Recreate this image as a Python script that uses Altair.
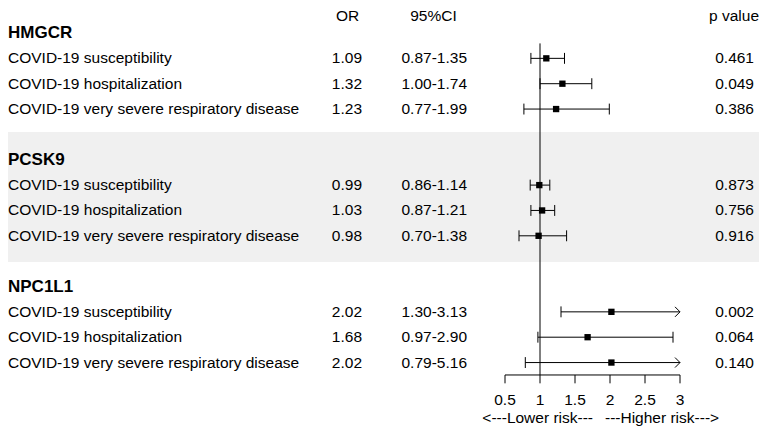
import altair as alt
import pandas as pd

# ---------------- data ----------------
genes = ["HMGCR", "PCSK9", "NPC1L1"]
outcomes = ["COVID-19 susceptibility", "COVID-19 hospitalization",
            "COVID-19 very severe respiratory disease"]
or_vals = [1.09, 1.32, 1.23, 0.99, 1.03, 0.98, 2.02, 1.68, 2.02]
ci_lo = [0.87, 1.00, 0.77, 0.86, 0.87, 0.70, 1.30, 0.97, 0.79]
ci_hi = [1.35, 1.74, 1.99, 1.14, 1.21, 1.38, 3.13, 2.90, 5.16]
p_vals = ["0.461", "0.049", "0.386", "0.873", "0.756", "0.916", "0.002", "0.064", "0.140"]
col_headers = ["OR", "95%CI", "p value"]
tick_vals = [0.5, 1, 1.5, 2, 2.5, 3]
tick_labels = ["0.5", "1", "1.5", "2", "2.5", "3"]
risk_labels = ["<---Lower risk---", "---Higher risk--->"]

# ---------------- layout ----------------
W, H = 751, 419
PX_ONE, PX_PER_UNIT = 532, 70          # pixel of OR=1 and pixels per unit
ROW1_PX, ROW_STEP = 25, 25.35          # pixel of first row and row step
X_MAX = tick_vals[-1]
X_DOM = [1 - PX_ONE / PX_PER_UNIT, 1 + (W - PX_ONE) / PX_PER_UNIT]
Y_DOM = [1 - ROW1_PX / ROW_STEP, 1 + (H - ROW1_PX) / ROW_STEP]
FONT = "Liberation Sans"
FS = 15.5
CAP = 0.215
VLINE_TOP = 1.41
AXIS_ROW, TICK_END_ROW, TICKLAB_ROW, RISK_ROW = 14.49, 14.82, 15.48, 16.2
BAND = (4.905, 10.03)

xs = alt.Scale(domain=X_DOM, nice=False, zero=False)
ys = alt.Scale(domain=Y_DOM, nice=False, zero=False, reverse=True)

rows, heads = [], []
for g, gene in enumerate(genes):
    hr = 1 + 5 * g
    heads.append({"row": hr, "gene": gene})
    for k, oc in enumerate(outcomes):
        i = 3 * g + k
        rows.append({
            "row": hr + 1 + k, "label": oc, "or": or_vals[i],
            "lo": ci_lo[i], "hi": ci_hi[i], "hic": min(ci_hi[i], X_MAX),
            "ci": f"{ci_lo[i]:.2f}-{ci_hi[i]:.2f}", "p": p_vals[i],
            "capped": ci_hi[i] > X_MAX,
        })
df = pd.DataFrame(rows)
hd = pd.DataFrame(heads)

X = lambda f: alt.X(f, type="quantitative", scale=xs, axis=None)
Y = lambda f: alt.Y(f, type="quantitative", scale=ys, axis=None)

band = alt.Chart(pd.DataFrame({"y": [BAND[0]], "y2": [BAND[1]]})).mark_rect(
    color="#f0f0f0").encode(x=alt.value(0), x2=alt.value(W), y=Y("y"), y2="y2")

txt = dict(font=FONT, fontSize=FS, baseline="middle", color="black")

labels = alt.Chart(df).mark_text(align="left", **txt).encode(
    x=alt.value(0), y=Y("row"), text="label")
genes_l = alt.Chart(hd).mark_text(align="left", font=FONT, fontSize=17,
                                  fontWeight="bold", baseline="middle",
                                  color="black").encode(
    x=alt.value(0), y=Y("row"), text="gene")
or_t = alt.Chart(df).mark_text(align="right", **txt).encode(
    x=alt.value(354), y=Y("row"), text=alt.Text("or:Q", format=".2f"))
ci_t = alt.Chart(df).mark_text(align="right", **txt).encode(
    x=alt.value(459), y=Y("row"), text="ci")
p_t = alt.Chart(df).mark_text(align="right", **txt).encode(
    x=alt.value(746), y=Y("row"), text="p")

hdr_pos = [(339.5, "center"), (425.5, "center"), (751, "right")]
hdrs = []
for name, (px, al) in zip(col_headers, hdr_pos):
    hdrs.append(alt.Chart(pd.DataFrame({"t": [name]})).mark_text(
        align=al, font=FONT, fontSize=FS, baseline="top", color="black").encode(
        x=alt.value(px), y=alt.value(1), text="t"))

vline = alt.Chart(pd.DataFrame({"x": [1], "y": [VLINE_TOP], "y2": [AXIS_ROW]})).mark_rule(
    color="black", strokeWidth=1).encode(x=X("x"), y=Y("y"), y2="y2")

ci_line = alt.Chart(df).mark_rule(color="black", strokeWidth=1).encode(
    x=X("lo"), x2="hic", y=Y("row"))
lo_cap = alt.Chart(df).transform_calculate(
    a=f"datum.row - {CAP}", b=f"datum.row + {CAP}").mark_rule(
    color="black", strokeWidth=1).encode(x=X("lo"), y=Y("a"), y2="b")
hi_cap = alt.Chart(df).transform_filter("!datum.capped").transform_calculate(
    a=f"datum.row - {CAP}", b=f"datum.row + {CAP}").mark_rule(
    color="black", strokeWidth=1).encode(x=X("hi"), y=Y("a"), y2="b")
arrows = alt.Chart(df).transform_filter("datum.capped").mark_point(
    shape="M-1,-1L0,0L-1,1", size=100, filled=False, color="black",
    strokeWidth=1, opacity=1).encode(x=X("hic"), y=Y("row"))
squares = alt.Chart(df).mark_square(size=40, color="black", opacity=1).encode(
    x=X("or"), y=Y("row"))

tk = pd.DataFrame({"v": tick_vals, "lab": tick_labels})
axis_line = alt.Chart(pd.DataFrame({"x": [tick_vals[0]], "x2": [tick_vals[-1]],
                                    "y": [AXIS_ROW]})).mark_rule(
    color="black", strokeWidth=1).encode(x=X("x"), x2="x2", y=Y("y"))
ticks = alt.Chart(tk).transform_calculate(
    a=str(AXIS_ROW), b=str(TICK_END_ROW)).mark_rule(
    color="black", strokeWidth=1).encode(x=X("v"), y=Y("a"), y2="b")
tick_t = alt.Chart(tk).transform_calculate(r=str(TICKLAB_ROW)).mark_text(
    align="center", **txt).encode(x=X("v"), y=Y("r"), text="lab")

risk = []
for lab, (px, al) in zip(risk_labels, [(585, "right"), (597, "left")]):
    risk.append(alt.Chart(pd.DataFrame({"t": [lab], "r": [RISK_ROW]})).mark_text(
        align=al, **txt).encode(x=alt.value(px), y=Y("r"), text="t"))

chart = alt.layer(
    band, vline, ci_line, lo_cap, hi_cap, arrows, squares,
    axis_line, ticks, tick_t, labels, genes_l, or_t, ci_t, p_t, *hdrs, *risk
).properties(
    width=W, height=H, padding=0,
    autosize=alt.AutoSizeParams(type="none"),
).configure(background="white", view=alt.ViewConfig(stroke=None))

chart.save("out.html", embed_options={"renderer": "svg", "actions": False})
